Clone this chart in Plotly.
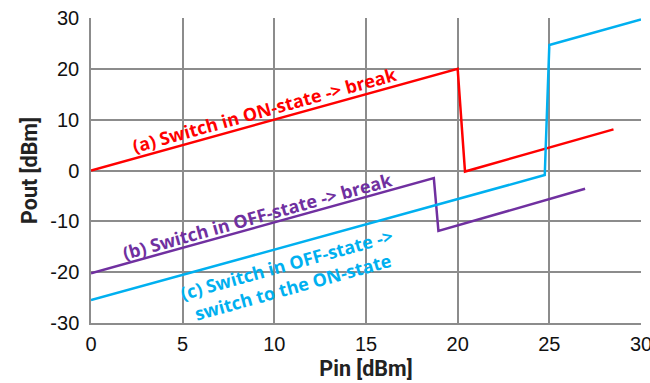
import plotly.graph_objects as go

# Data
a_x = [0, 20, 20.4, 28.5]
a_y = [0, 20, -0.2, 8.1]
b_x = [0, 18.7, 18.95, 26.95]
b_y = [-20.2, -1.5, -11.9, -3.6]
c_x = [0, 24.75, 25.0, 30]
c_y = [-25.5, -0.9, 24.7, 29.7]

x_ticks = [0, 5, 10, 15, 20, 25, 30]
y_ticks = [-30, -20, -10, 0, 10, 20, 30]
y_tick_text = ["-30", "-20", "-10", "0", "10", "20", "30"]

RED = "#FF0000"
PURPLE = "#7030A0"
CYAN = "#00B0F0"
GRID = "#8c8c8c"

fig = go.Figure()
for xs, ys, col in [(a_x, a_y, RED), (b_x, b_y, PURPLE), (c_x, c_y, CYAN)]:
    fig.add_trace(go.Scatter(x=xs, y=ys, mode="lines",
                             line=dict(color=col, width=2.5), showlegend=False))

ang = -15.5
fnt = "Open Sans"
fs = 18
fig.add_annotation(x=9.44, y=11.9, text="<b>(a) Switch in ON-state -> break</b>",
                   showarrow=False, textangle=ang,
                   font=dict(family=fnt, size=fs, color=RED))
fig.add_annotation(x=9.1, y=-9.0, text="<b>(b) Switch in OFF-state -> break</b>",
                   showarrow=False, textangle=ang,
                   font=dict(family=fnt, size=fs, color=PURPLE))
fig.add_annotation(x=10.8, y=-20.6, text="<b>(c) Switch in OFF-state -><br>switch to the ON-state</b>",
                   showarrow=False, textangle=ang, align="center",
                   font=dict(family=fnt, size=fs, color=CYAN))

tick_font = dict(family="Liberation Sans, Arial", size=20, color="#111")
title_font = dict(family="Roboto", size=21.5, color="#222")

fig.update_xaxes(range=[0, 30], tickvals=x_ticks, showgrid=True, gridcolor=GRID, gridwidth=1.5,
                 showline=True, linecolor=GRID, linewidth=1.5, zeroline=False,
                 ticks="outside", ticklen=2, tickcolor="rgba(0,0,0,0)", automargin=False,
                 ticklabeloverflow="allow", tickfont=tick_font,
                 title=dict(text="<b>Pin [dBm]</b>", font=title_font, standoff=7))
fig.update_yaxes(range=[-30, 30], tickvals=y_ticks, ticktext=y_tick_text,
                 showgrid=True, gridcolor=GRID, gridwidth=1.5,
                 showline=True, linecolor=GRID, linewidth=1.5, zeroline=False,
                 ticks="outside", ticklen=6, tickcolor="rgba(0,0,0,0)", automargin=False,
                 tickfont=tick_font,
                 title=dict(text="<b>Pout [dBm]</b>", font=title_font, standoff=7))

fig.update_layout(width=650, height=383, margin=dict(l=91, r=9, t=18, b=60),
                  plot_bgcolor="white", paper_bgcolor="white")
fig.write_html("out.html", config={"displayModeBar": False},
               post_script="document.body.style.margin='0px';")
